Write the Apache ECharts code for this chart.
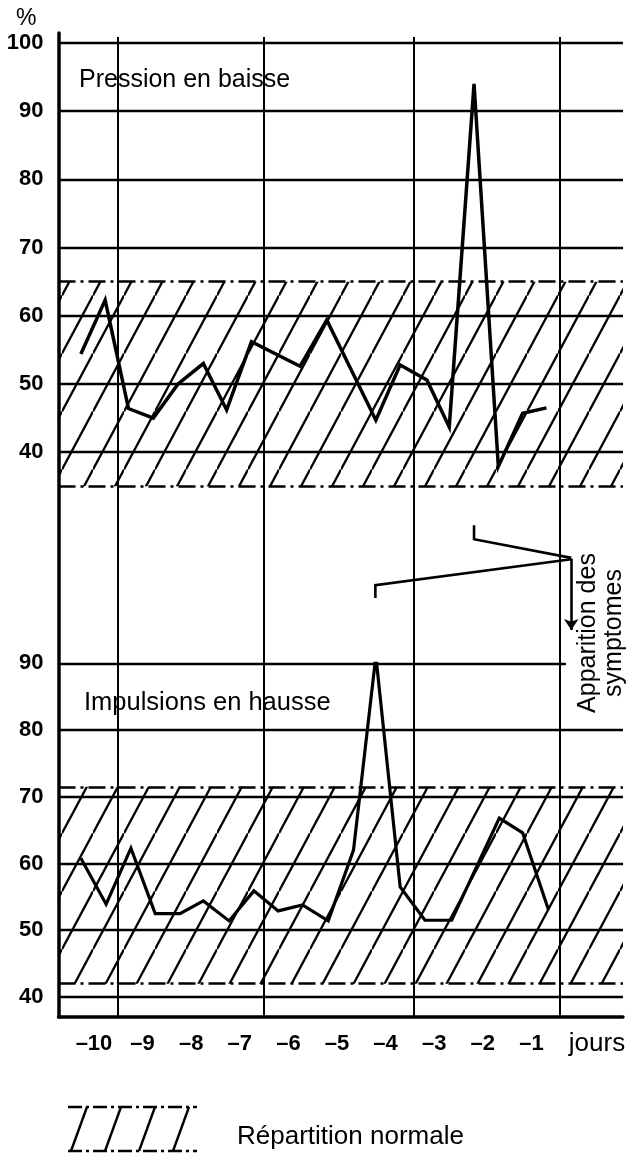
<!DOCTYPE html>
<html><head><meta charset="utf-8">
<script src="https://cdn.jsdelivr.net/npm/echarts@6/dist/echarts.min.js"></script>
<style>html,body{margin:0;padding:0;background:#fff}#c{width:630px;height:1155px}</style>
</head><body><div id="c"></div>
<script>
// ---- data ----
const days = [-10, -9, -8, -7, -6, -5, -4, -3, -2, -1];
const topTicks = [40, 50, 60, 70, 80, 90, 100];
const bottomTicks = [40, 50, 60, 70, 80, 90];
const pressionX = [-10.27, -9.77, -9.29, -8.78, -8.27, -7.75, -7.27, -6.76, -5.76, -5.21, -4.20, -3.70, -3.15, -2.69, -2.18, -1.68, -1.18, -0.69];
const pressionY = [54.4, 62.3, 46.4, 45.0, 50.0, 53.0, 46.2, 56.2, 52.6, 59.4, 44.7, 52.8, 50.6, 43.7, 94.0, 37.9, 45.7, 46.5];
const impulsionsX = [-10.27, -9.75, -9.24, -8.74, -8.23, -7.75, -7.22, -6.71, -6.21, -5.71, -5.18, -4.66, -4.20, -3.70, -3.19, -2.64, -1.66, -1.18, -0.65];
const impulsionsY = [60.8, 53.9, 62.3, 52.5, 52.5, 54.4, 51.4, 55.9, 52.9, 53.8, 51.4, 62.0, 91.1, 56.5, 51.5, 51.5, 66.8, 64.6, 53.1];
const normalTop = [35, 65];
const normalBottom = [42, 71.5];
const dayDividers = [-9.52, -6.50, -3.43, -0.41];
// annotation (in units of the lower panel)
const onsetPathA = [[-4.21, 99.8], [-4.21, 101.7], [-0.18, 105.6]];
const onsetPathB = [[-2.18, 110.7], [-2.18, 108.6], [-0.18, 105.8]];
const onsetArrow = [[-0.18, 105.7], [-0.18, 95.0]];

const X_MIN = -10.73, X_MAX = 0.885;
const FONT = 'Liberation Sans, Arial, Helvetica, sans-serif';

function hatch(phase) {
  const W = 31, H = 58;
  const c = document.createElement('canvas');
  c.width = W; c.height = H;
  const g = c.getContext('2d');
  g.strokeStyle = '#000'; g.lineWidth = 2.3;
  for (let m = -2; m <= 3; m++) {
    g.beginPath(); g.moveTo(0, phase + m * H); g.lineTo(W, phase + (m - 1) * H); g.stroke();
  }
  return c;
}
function legendIcon() {
  const c = document.createElement('canvas');
  c.width = 164; c.height = 64;
  const g = c.getContext('2d');
  g.strokeStyle = '#000'; g.lineWidth = 2.4;
  g.setLineDash([14, 4, 3, 4]);
  g.beginPath(); g.moveTo(0, 2); g.lineTo(129, 2); g.stroke();
  g.beginPath(); g.moveTo(0, 46); g.lineTo(129, 46); g.stroke();
  g.setLineDash([]);
  for (let i = 0; i < 4; i++) {
    g.beginPath(); g.moveTo(19 + 34 * i, 2); g.lineTo(3 + 34 * i, 46); g.stroke();
  }
  return c.toDataURL();
}

const pairs = (xs, ys) => xs.map((x, i) => [x, ys[i]]);
const dashDot = { color: '#000', width: 2.6, type: [17, 5, 3, 5] };
const gridLine = { color: '#000', width: 2.4, type: 'solid' };

const chart = echarts.init(document.getElementById('c'));
const labelStyle = { color: '#000', fontSize: 22, fontWeight: 'bold', fontFamily: FONT };

chart.setOption({
  animation: false,
  backgroundColor: '#fff',
  textStyle: { fontFamily: FONT, color: '#000' },
  title: [
    { text: 'Pression en baisse', left: 74, top: 63, textStyle: { fontSize: 25, fontWeight: 'normal', color: '#000', fontFamily: FONT } },
    { text: 'Impulsions en hausse', left: 79, top: 685, textStyle: { fontSize: 25.5, fontWeight: 'normal', color: '#000', fontFamily: FONT } }
  ],
  legend: {
    data: ['Répartition normale'],
    left: 68, top: 1105, padding: 0,
    itemWidth: 164, itemHeight: 64,
    icon: 'image://' + legendIcon(),
    selectedMode: false,
    textStyle: { fontSize: 26, color: '#000', fontFamily: FONT }
  },
  graphic: [{
    type: 'text', x: 601, y: 633, rotation: Math.PI / 2, silent: true,
    style: { text: 'Apparition des\nsymptomes', font: '25px ' + FONT, fill: '#000', align: 'center', verticalAlign: 'middle', lineHeight: 26 }
  }],
  grid: [
    { left: 58.5, right: 7, top: 43, height: 443.3 },
    { left: 58.5, right: 7, top: 663.3, height: 353.7 },
    { left: 58.5, right: 7, top: 33, bottom: 138 }
  ],
  xAxis: [
    { type: 'value', gridIndex: 0, min: X_MIN, max: X_MAX, show: false },
    {
      type: 'value', gridIndex: 1, min: X_MIN, max: X_MAX,
      axisLine: { show: true, onZero: false, lineStyle: { color: '#000', width: 3.5 } },
      axisTick: { show: false }, splitLine: { show: false },
      axisLabel: { customValues: days, margin: 16, formatter: v => '–' + Math.abs(v), ...labelStyle },
      name: 'jours', nameLocation: 'end', nameGap: -26,
      nameTextStyle: { fontSize: 26, color: '#000', align: 'center', verticalAlign: 'top', padding: [14, 0, 0, 0], fontFamily: FONT }
    },
    { type: 'value', gridIndex: 2, min: X_MIN, max: X_MAX, show: false }
  ],
  yAxis: [
    {
      type: 'value', gridIndex: 0, min: 35, max: 100,
      axisLine: { show: false, onZero: false }, axisTick: { show: false }, splitLine: { show: false },
      axisLabel: { customValues: topTicks, margin: 15, ...labelStyle },
      name: '%', nameLocation: 'end', nameGap: 24,
      nameTextStyle: { fontSize: 23, color: '#000', align: 'right', verticalAlign: 'middle', padding: [0, 22, 0, 0], fontFamily: FONT }
    },
    {
      type: 'value', gridIndex: 1, min: 37, max: 90,
      axisLine: { show: false, onZero: false }, axisTick: { show: false }, splitLine: { show: false },
      axisLabel: { customValues: bottomTicks, margin: 15, ...labelStyle }
    },
    {
      type: 'value', gridIndex: 2, min: 0, max: 1,
      axisLine: { show: true, onZero: false, lineStyle: { color: '#000', width: 3.5 } },
      axisTick: { show: false }, axisLabel: { show: false }, splitLine: { show: false }
    }
  ],
  series: [
    {
      name: 'jours', type: 'line', xAxisIndex: 2, yAxisIndex: 2, data: [], silent: true,
      markLine: { silent: true, symbol: 'none', label: { show: false }, lineStyle: { color: '#000', width: 2, type: 'solid' },
        data: dayDividers.map(v => [{ coord: [v, 0] }, { coord: [v, 0.996] }]) }
    },
    {
      name: 'Répartition normale', type: 'line', xAxisIndex: 0, yAxisIndex: 0, data: [], silent: true,
      markArea: { silent: true, itemStyle: { color: { image: hatch(5.5), repeat: 'repeat' }, opacity: 1 },
        data: [[{ yAxis: normalTop[0] }, { yAxis: normalTop[1] }]] },
      markLine: { silent: true, symbol: 'none', label: { show: false }, lineStyle: dashDot,
        data: normalTop.map(v => ({ yAxis: v })) }
    },
    {
      name: 'Répartition normale', type: 'line', xAxisIndex: 1, yAxisIndex: 1, data: [], silent: true,
      markArea: { silent: true, itemStyle: { color: { image: hatch(21.3), repeat: 'repeat' }, opacity: 1 },
        data: [[{ yAxis: normalBottom[0] }, { yAxis: normalBottom[1] }]] },
      markLine: { silent: true, symbol: 'none', label: { show: false }, lineStyle: dashDot,
        data: normalBottom.map(v => ({ yAxis: v })) }
    },
    {
      name: 'Pression en baisse', type: 'line', xAxisIndex: 0, yAxisIndex: 0,
      data: pairs(pressionX, pressionY), showSymbol: false, symbol: 'none', silent: true, z: 5,
      lineStyle: { color: '#000', width: 3.5, join: 'miter' },
      markLine: { silent: true, symbol: 'none', label: { show: false }, lineStyle: gridLine,
        data: topTicks.map(v => ({ yAxis: v })) }
    },
    {
      name: 'Impulsions en hausse', type: 'line', xAxisIndex: 1, yAxisIndex: 1,
      data: pairs(impulsionsX, impulsionsY), showSymbol: false, symbol: 'none', silent: true, z: 5,
      lineStyle: { color: '#000', width: 3.2, join: 'miter' },
      markLine: { silent: true, symbol: 'none', label: { show: false }, lineStyle: gridLine,
        data: bottomTicks.filter(v => v !== 90).map(v => ({ yAxis: v }))
          .concat([[{ coord: [X_MIN, 90] }, { coord: [-0.29, 90] }]]) }
    },
    {
      name: 'annotation', type: 'lines', coordinateSystem: 'cartesian2d', xAxisIndex: 1, yAxisIndex: 1,
      polyline: true, clip: false, silent: true, symbol: 'none',
      lineStyle: { color: '#000', width: 2.6, opacity: 1 },
      data: [{ coords: onsetPathA }, { coords: onsetPathB }]
    },
    {
      name: 'annotation-arrow', type: 'lines', coordinateSystem: 'cartesian2d', xAxisIndex: 1, yAxisIndex: 1,
      polyline: false, clip: false, silent: true, symbol: ['none', 'arrow'], symbolSize: [0, 11],
      lineStyle: { color: '#000', width: 2.6, opacity: 1 },
      data: [{ coords: onsetArrow }]
    }
  ]
});
</script></body></html>
